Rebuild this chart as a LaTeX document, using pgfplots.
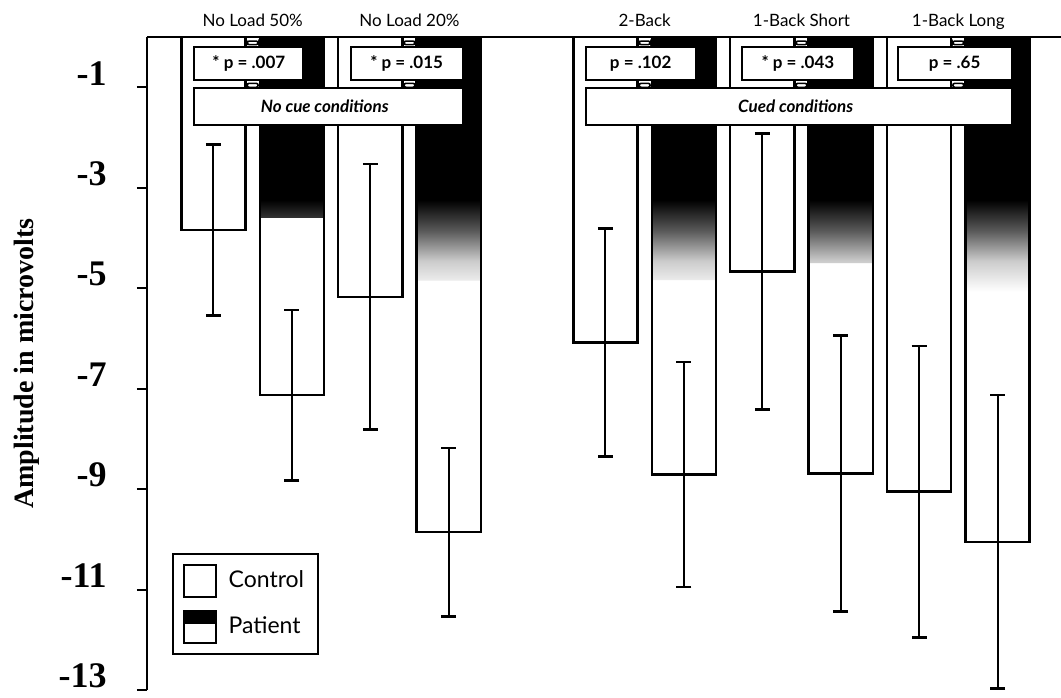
\documentclass[border=0pt]{standalone}
\usepackage{fontspec}
\setmainfont{Liberation Serif}
\newfontfamily\lato{Lato}
\usepackage{pgfplots}
\usepackage{pgfplotstable}
\pgfplotsset{compat=1.18}

\pgfdeclareverticalshading{patfade}{100bp}{color(0bp)=(white); color(25bp)=(white); color(31bp)=(black!20); color(37bp)=(black!65); color(43bp)=(black); color(100bp)=(black)}

% x = position, y = mean, e = error (SE)
\pgfplotstableread{
x y e
-0.25 -3.84 1.70
0.75 -5.17 2.64
2.25 -6.08 2.27
3.25 -4.67 2.75
4.25 -9.05 2.90
}\control

% f = depth of the dark fade at the top of the patient bars
\pgfplotstableread{
x y e f
0.25 -7.13 1.70 -3.60
1.25 -9.86 1.68 -4.85
2.75 -8.71 2.24 -4.84
3.75 -8.69 2.75 -4.50
4.75 -10.05 2.92 -5.07
}\patient

\pgfplotsset{
  mybar/.style={ybar, bar width=0.41, bar shift=0pt, line width=1.2pt, forget plot},
  myerr/.style={error bars/.cd, y dir=both, y explicit,
    error bar style={line width=1pt, black},
    error mark options={rotate=90, mark size=3.75pt, line width=1.3pt, black}},
}

\begin{document}
\begin{tikzpicture}
\begin{axis}[
  name=ax,
  scale only axis, width=457pt, height=326.45pt,
  xmin=-0.674, xmax=5.155, ymin=-13, ymax=0,
  axis x line*=top, axis y line*=left,
  axis line style={-, line width=1.2pt},
  xtick={0,1,2.5,3.5,4.5},
  xticklabels={No Load 50\%, No Load 20\%, 2-Back, 1-Back Short, 1-Back Long},
  xticklabel pos=upper,
  xtick pos=upper,
  x tick style={draw=none},
  xticklabel style={font=\lato\fontsize{8.5}{10}\selectfont, anchor=base, yshift=5.5pt},
  ytick={-13,-11,-9,-7,-5,-3,-1},
  yticklabels={-13,-11,-9,-7,-5,-3,-1},
  ytick pos=left,
  ytick align=outside, major tick length=5pt,
  y tick style={line width=1pt, black},
  yticklabel style={font=\bfseries\fontsize{18}{18}\selectfont, inner sep=0pt, xshift=-15pt, yshift=7pt},
  ylabel={Amplitude in microvolts},
  ylabel style={font=\bfseries\fontsize{14}{14}\selectfont, at={(axis description cs:-0.131,0.5)}, anchor=center},
  legend style={at={(rel axis cs:0.027,0.0536)}, anchor=south west, draw=black, line width=1pt,
    font=\lato\fontsize{11.5}{14}\selectfont, row sep=6pt, column sep=4pt, inner xsep=5pt, inner ysep=5pt},
  legend cell align=left,
]
% control bars
\addplot[mybar, fill=white, draw=black, myerr] table[x=x, y=y, y error=e]{\control};
% patient bars
\addplot[mybar, fill=white, draw=black] table[x=x, y=y]{\patient};
\addplot[mybar, draw=none, shade, shading=patfade] table[x=x, y=f]{\patient};
\addplot[mybar, fill=none, draw=black, myerr] table[x=x, y=y, y error=e]{\patient};

% connectors
\pgfplotsinvokeforeach{0,1,2.5,3.5,4.5}{
  \draw[line width=0.8pt, fill=white, rounded corners=1pt] (axis cs:#1-0.035,-0.08) rectangle (axis cs:#1+0.035,-0.15);
  \draw[line width=0.8pt, fill=white, rounded corners=1pt] (axis cs:#1-0.035,-0.92) rectangle (axis cs:#1+0.035,-1.0);
}
% p-value boxes
\draw[line width=1.1pt, fill=white] (axis cs:-0.372,-0.19) rectangle (axis cs:0.323,-0.855)
  node[midway, font=\lato\bfseries\fontsize{8.5}{10}\selectfont] {* p = .007};
\draw[line width=1.1pt, fill=white] (axis cs:0.625,-0.19) rectangle (axis cs:1.339,-0.855)
  node[midway, font=\lato\bfseries\fontsize{8.5}{10}\selectfont] {* p = .015};
\draw[line width=1.1pt, fill=white] (axis cs:2.124,-0.19) rectangle (axis cs:2.825,-0.855)
  node[midway, font=\lato\bfseries\fontsize{8.5}{10}\selectfont] {p = .102};
\draw[line width=1.1pt, fill=white] (axis cs:3.119,-0.19) rectangle (axis cs:3.835,-0.855)
  node[midway, font=\lato\bfseries\fontsize{8.5}{10}\selectfont] {* p = .043};
\draw[line width=1.1pt, fill=white] (axis cs:4.113,-0.19) rectangle (axis cs:4.841,-0.855)
  node[midway, font=\lato\bfseries\fontsize{8.5}{10}\selectfont] {p = .65};
% condition boxes
\draw[line width=1.1pt, fill=white] (axis cs:-0.372,-1.02) rectangle (axis cs:1.339,-1.75);
\node[font=\lato\bfseries\itshape\fontsize{8.5}{10}\selectfont] at (axis cs:0.46,-1.385) {No cue conditions};
\draw[line width=1.1pt, fill=white] (axis cs:2.124,-1.02) rectangle (axis cs:4.841,-1.75);
\node[font=\lato\bfseries\itshape\fontsize{8.5}{10}\selectfont] at (axis cs:3.463,-1.385) {Cued conditions};

% legend
\addlegendimage{legend image code/.code={\draw[line width=1pt, fill=white] (0pt,-8pt) rectangle (16pt,8pt);}}
\addlegendentry{Control}
\addlegendimage{legend image code/.code={\draw[line width=1pt, fill=white] (0pt,-8pt) rectangle (16pt,8pt); \fill[black] (0pt,2pt) rectangle (16pt,8pt); \draw[line width=1pt] (0pt,-8pt) rectangle (16pt,8pt);}}
\addlegendentry{Patient}
\end{axis}
\pgfresetboundingbox
\path[use as bounding box] ([shift={(-73.5pt,-3.5pt)}]ax.south west) rectangle ([shift={(0pt,18.55pt)}]ax.north east);
\end{tikzpicture}
\end{document}
